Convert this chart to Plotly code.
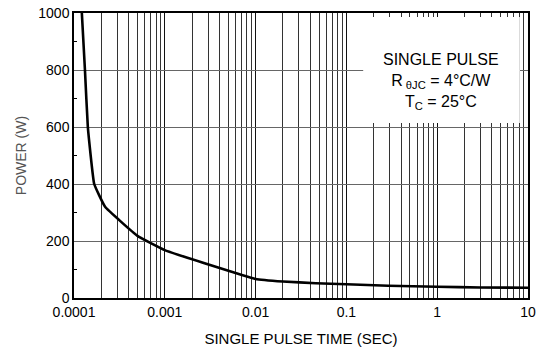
import plotly.graph_objects as go

# Data
time_s = [0.000122, 0.000132, 0.000142, 0.000167, 0.00022, 0.0005, 0.001,
          0.01, 0.02, 0.046, 0.1, 0.29, 1, 3, 10]
power_w = [1000, 800, 600, 400, 320, 218, 168,
           67, 58, 51.6, 48, 43, 39.5, 37, 36]

x_tick_vals = [0.0001, 0.001, 0.01, 0.1, 1, 10]
x_tick_text = ["0.0001", "0.001", "0.01", "0.1", "1", "10"]

FONT = "Liberation Sans, Arial, Helvetica, sans-serif"

fig = go.Figure()
fig.add_trace(go.Scatter(
    x=time_s, y=power_w, mode="lines",
    line=dict(color="black", width=2.6, shape="spline", smoothing=0.3),
    showlegend=False, hoverinfo="skip",
))

fig.update_layout(
    width=548, height=351,
    margin=dict(l=74, r=20, t=13, b=53),
    paper_bgcolor="white", plot_bgcolor="white",
    font=dict(family=FONT, size=14, color="black"),
    showlegend=False,
    xaxis=dict(
        type="log", range=[-4, 1], automargin=False,
        tickvals=x_tick_vals, ticktext=x_tick_text,
        showgrid=True, gridcolor="#111", gridwidth=1,
        minor=dict(dtick="D1", showgrid=True, gridcolor="#333", gridwidth=1, ticks=""),
        showline=True, linecolor="black", linewidth=1.5, mirror=True,
        ticks="", zeroline=False,
        tickfont=dict(size=14),
        title=dict(text="SINGLE PULSE TIME (SEC)", font=dict(size=15), standoff=15),
    ),
    yaxis=dict(
        range=[0, 1000], tick0=0, dtick=200, automargin=False,
        showgrid=True, gridcolor="#666", gridwidth=1,
        minor=dict(dtick=100, tick0=0, ticks="inside", ticklen=3, tickcolor="black", tickwidth=1),
        showline=True, linecolor="black", linewidth=1.5, mirror=True,
        ticks="", zeroline=False,
        tickfont=dict(size=14),
        title=dict(text="POWER (W)", font=dict(size=14, color="#555"), standoff=8),
    ),
)

# White info box over the grid
fig.add_shape(type="rect", xref="paper", yref="paper",
              x0=0.637, x1=0.982, y0=0.614, y1=0.986,
              fillcolor="white", line=dict(width=0), layer="above")

fig.add_annotation(
    xref="paper", yref="paper", x=0.808, y=0.76,
    xanchor="center", yanchor="middle",
    text="SINGLE PULSE<br>R<sub> θJC</sub> = 4°C/W<br>T<sub>C</sub> = 25°C",
    showarrow=False, align="center",
    font=dict(family=FONT, size=16, color="black"),
)

fig.write_html("out.html")
